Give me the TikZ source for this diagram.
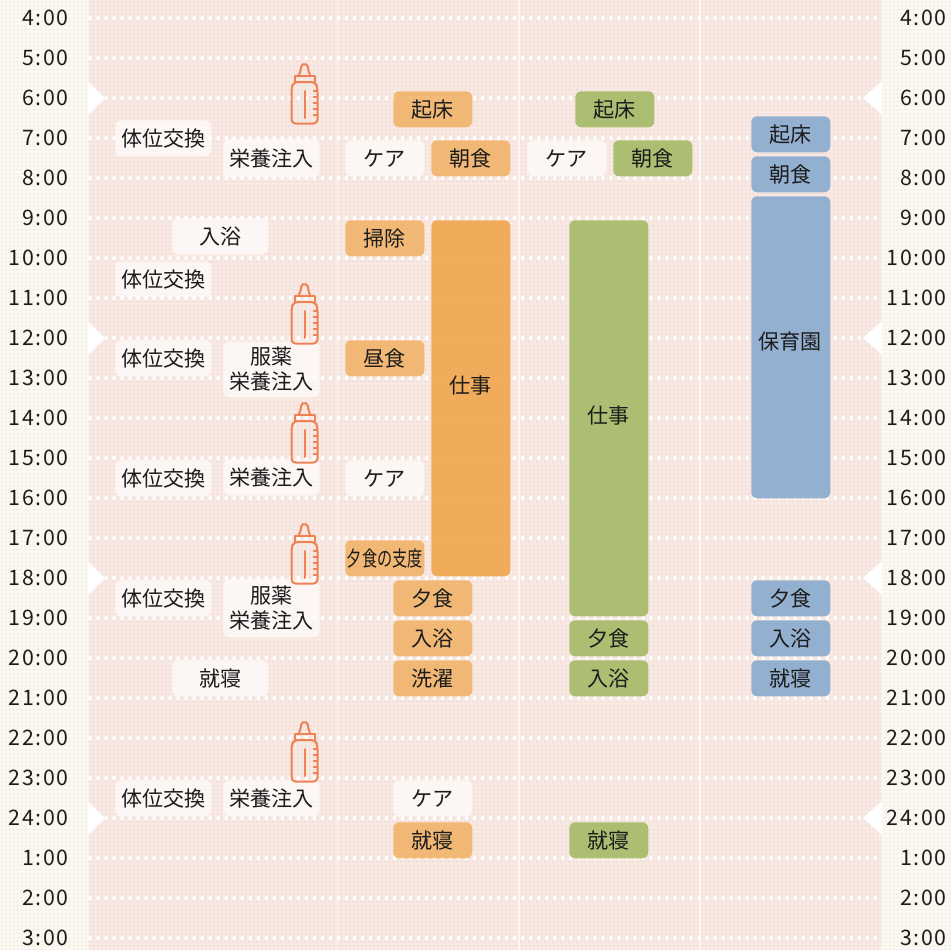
\documentclass[tikz,border=0pt]{standalone}
\usepackage{fontspec}
\setmainfont{Noto Sans CJK JP}
\newfontfamily\hourfont[LetterSpace=8]{Noto Sans CJK JP}
\definecolor{paper}{HTML}{FCFAF1}
\definecolor{pinkbg}{HTML}{FBEAE4}
\definecolor{orangeb}{HTML}{F0A850}
\definecolor{greenb}{HTML}{A8BC6C}
\definecolor{blueb}{HTML}{8CACCF}
\definecolor{bottlec}{HTML}{EF8255}
\definecolor{inkc}{HTML}{1C1C1C}
\tikzset{
  block/.style={rounded corners=4.5pt,inner sep=0pt,text=inkc,font=\fontsize{15.8pt}{19pt}\selectfont,align=center,text opacity=1},
  whitebox/.style={block,fill=white,fill opacity=.68},
  orangebox/.style={block,fill=orangeb,fill opacity=.74},
  orangetall/.style={block,fill=orangeb,fill opacity=.93},
  greenbox/.style={block,fill=greenb,fill opacity=.95},
  bluebox/.style={block,fill=blueb,fill opacity=.92},
  blocklabel/.style={text=inkc,inner sep=0pt,font=\fontsize{15.8pt}{19pt}\selectfont},
  hourlabel/.style={text=inkc,inner sep=0pt,font=\hourfont\fontsize{16pt}{19pt}\selectfont},
  dotline/.style={white,line width=2.8pt,line cap=round,dash pattern=on 0.01pt off 6pt},
  bottleline/.style={bottlec,line width=1.5pt,line cap=round,line join=round}
}
\newcommand{\bx}[7]{% name, style, x0, y0, x1, y1, text
  \node[#2,minimum width=#5*0.75pt-#3*0.75pt,minimum height=#6*0.75pt-#4*0.75pt,anchor=north west] (#1) at (#3,#4) {#7};
}
\newcommand{\bottlepic}[2]{% name, top y
  \begin{scope}[shift={(304.5,#2)}]
    \coordinate (#1) at (0,0);
    \draw[bottleline,fill=none,rounded corners=3pt] (-13,59.5) -- (-13,24) -- (-11,18) -- (11,18) -- (13,24) -- (13,59.5) -- cycle;
    \draw[bottleline] (-10,18) -- (-10,12) -- (10,12) -- (10,18);
    \draw[bottleline,rounded corners=1.5pt] (-6,12) -- (-3.5,6) -- (-3.5,1) -- (0,-0.5) -- (3.5,1) -- (3.5,6) -- (6,12);
    \draw[bottleline] (0,27) -- (0,54);
    \draw[bottleline,line width=1pt] (9,27) -- (13,27) (9,33) -- (13,33) (9,39) -- (13,39) (9,45) -- (13,45) (9,51) -- (13,51);
  \end{scope}
}
\begin{document}
\begin{tikzpicture}[x=0.75pt,y=-0.75pt]
\useasboundingbox (0,0) rectangle (951,950);
\fill[paper] (0,0) rectangle (951,950);
\fill[pinkbg] (89,0) rectangle (881,950);
% cloth texture
\foreach \yy in {2,6,...,950} \draw[black!45,opacity=.06,line width=1.5pt,dash pattern=on 2pt off 1pt] (0,\yy) -- (951,\yy);
\foreach \xx in {2,6,...,950} \draw[black!45,opacity=.035,line width=1.2pt,dash pattern=on 1.5pt off 1.5pt] (\xx,0) -- (\xx,950);
% notches
\foreach \yy in {98,338,578,818} {
  \fill[white] (88,\yy-17) -- (105,\yy) -- (88,\yy+17) -- cycle;
  \fill[white] (882,\yy-17) -- (863,\yy) -- (882,\yy+17) -- cycle;
}
% column rules
\foreach \xx in {337.5,519,700} \draw[white,opacity=.7,line width=.9pt] (\xx,0) -- (\xx,950);
% hour lines
\foreach \yy in {18,58,...,938} \draw[dotline] (90,\yy) -- (881,\yy);
% hour labels
\foreach \yy/\tt/\nn in {18/4:00/a,58/5:00/b,98/6:00/c,138/7:00/d,178/8:00/e,218/9:00/f,258/10:00/g,298/11:00/h,338/12:00/i,378/13:00/j,418/14:00/k,458/15:00/l,498/16:00/m,538/17:00/n,578/18:00/o,618/19:00/p,658/20:00/q,698/21:00/r,738/22:00/s,778/23:00/t,818/24:00/u,858/1:00/v,898/2:00/w,938/3:00/x} {
  \node[hourlabel,anchor=east] (hl\nn) at (69,\yy) {\tt};
  \node[hourlabel,anchor=east] (hr\nn) at (947,\yy) {\tt};
}
% column 1
\bx{a1}{whitebox}{115}{120}{211}{156}{体位交換}
\bx{a2}{whitebox}{223}{139}{319}{177}{栄養注入}
\bx{a3}{whitebox}{172}{218}{268}{254}{入浴}
\bx{a4}{whitebox}{115}{261}{211}{297}{体位交換}
\bx{a5}{whitebox}{115}{340}{211}{376}{体位交換}
\bx{a6}{whitebox}{223}{341}{319}{397}{服薬\\栄養注入}
\bx{a7}{whitebox}{115}{460}{211}{496}{体位交換}
\bx{a8}{whitebox}{223}{459}{319}{495}{栄養注入}
\bx{a9}{whitebox}{115}{580}{211}{616}{体位交換}
\bx{a10}{whitebox}{223}{579}{319}{637}{服薬\\栄養注入}
\bx{a11}{whitebox}{172}{660}{268}{696}{就寝}
\bx{a12}{whitebox}{115}{780}{211}{816}{体位交換}
\bx{a13}{whitebox}{223}{780}{319}{816}{栄養注入}
% column 2
\bx{b1}{orangebox}{393}{91}{472}{127}{起床}
\bx{b2}{whitebox}{345}{140}{424}{176}{ケア}
\bx{b3}{orangebox}{431}{140}{510}{176}{朝食}
\bx{b4}{orangebox}{345}{220}{424}{256}{掃除}
\bx{b5}{orangetall}{431}{220}{510}{576}{}
\node[blocklabel] (b5t) at (470.5,386) {仕事};
\bx{b6}{orangebox}{345}{340}{424}{376}{昼食}
\bx{b7}{whitebox}{345}{460}{424}{496}{ケア}
\bx{b8}{orangebox}{345}{540}{424}{576}{\scalebox{.72}[1]{夕食の支度}}
\bx{b9}{orangebox}{393}{580}{472}{616}{夕食}
\bx{b10}{orangebox}{393}{620}{472}{656}{入浴}
\bx{b11}{orangebox}{393}{660}{472}{696}{洗濯}
\bx{b12}{whitebox}{393}{780}{472}{816}{ケア}
\bx{b13}{orangebox}{393}{822}{472}{858}{就寝}
% column 3
\bx{c1}{greenbox}{575}{91}{654}{127}{起床}
\bx{c2}{whitebox}{527}{140}{606}{176}{ケア}
\bx{c3}{greenbox}{613}{140}{692}{176}{朝食}
\bx{c4}{greenbox}{569}{220}{648}{616}{}
\node[blocklabel] (c4t) at (608.5,416) {仕事};
\bx{c5}{greenbox}{569}{620}{648}{656}{夕食}
\bx{c6}{greenbox}{569}{660}{648}{696}{入浴}
\bx{c7}{greenbox}{569}{822}{648}{858}{就寝}
% column 4
\bx{d1}{bluebox}{751}{116}{830}{152}{起床}
\bx{d2}{bluebox}{751}{156}{830}{192}{朝食}
\bx{d3}{bluebox}{751}{196}{830}{498}{}
\node[blocklabel] (d3t) at (790,341) {保育園};
\bx{d4}{bluebox}{751}{580}{830}{616}{夕食}
\bx{d5}{bluebox}{751}{620}{830}{656}{入浴}
\bx{d6}{bluebox}{751}{660}{830}{696}{就寝}
% bottles
\bottlepic{bottleA}{64}
\bottlepic{bottleB}{284}
\bottlepic{bottleC}{403}
\bottlepic{bottleD}{524}
\bottlepic{bottleE}{722}
\end{tikzpicture}
\end{document}
